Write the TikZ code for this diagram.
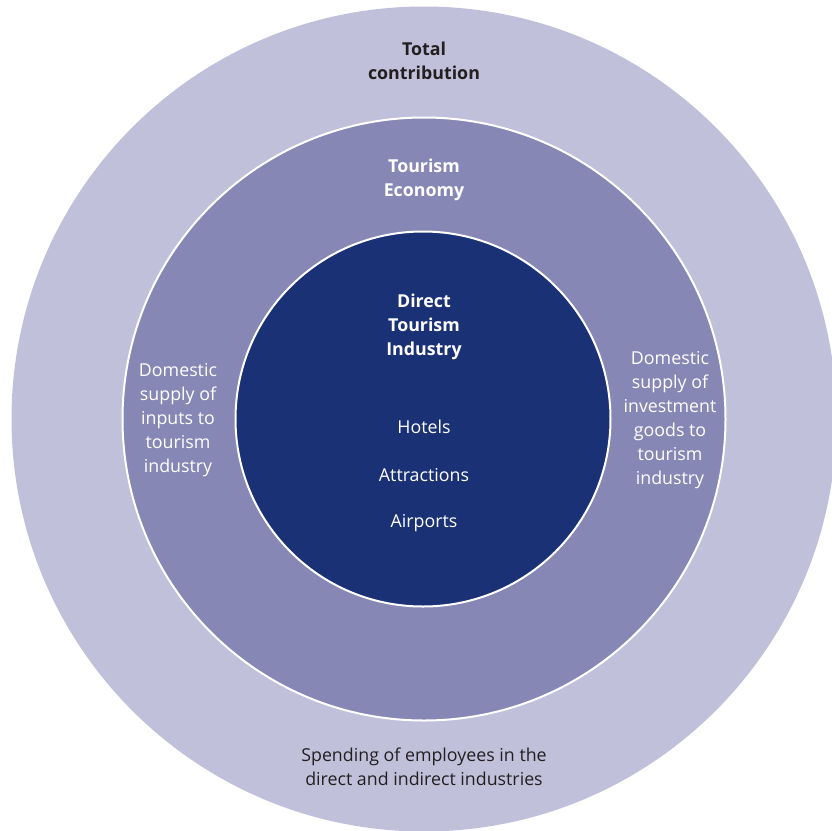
\documentclass[tikz,border=0pt]{standalone}
\usepackage{fontspec}
\setmainfont{Open Sans}
\usetikzlibrary{positioning}
\definecolor{outerring}{HTML}{C0C0DB}
\definecolor{midring}{HTML}{8787B5}
\definecolor{corering}{HTML}{1B3175}
\definecolor{darktext}{HTML}{231F20}

\begin{document}
\begin{tikzpicture}[x=1pt, y=-1pt]
\tikzstyle{ring} = [circle, inner sep=0pt, draw=white, line width=2pt]
\tikzstyle{darklabel} = [align=center, text=darktext, font=\fontsize{17.8}{24}\selectfont]
\tikzstyle{whitelabel} = [align=center, text=white, font=\fontsize{17.8}{24}\selectfont]
\tikzstyle{boldlabel} = [font=\fontsize{17.8}{24}\selectfont\bfseries]

\useasboundingbox (0,0) rectangle (831,831);

%rings
\node (total) [ring, draw=none, fill=outerring, minimum size=825pt] at (424,419) {};
\node (economy) [ring, fill=midring, minimum size=603pt] at (424,419) {};
\node (direct) [ring, fill=corering, minimum size=375pt] at (423,419) {};

%outer ring texts
\node (totaltitle) [darklabel, boldlabel] at (424,61) {Total\\contribution};
\node (spending) [darklabel] at (424,767) {Spending of employees in the\\direct and indirect industries};

%middle ring texts
\node (economytitle) [whitelabel, boldlabel] at (424,180) {Tourism\\Economy};
\node (inputs) [whitelabel] at (178,420) {Domestic\\supply of\\inputs to\\tourism\\industry};
\node (investment) [whitelabel] at (670,420) {Domestic\\supply of\\investment\\goods to\\tourism\\industry};

%core texts
\node (directtitle) [whitelabel, boldlabel] at (424,327) {Direct\\Tourism\\Industry};
\node (hotels) [whitelabel] at (424,427) {Hotels};
\node (attractions) [whitelabel, below=48pt of hotels.center, anchor=center] {Attractions};
\node (airports) [whitelabel, below=48pt of attractions.center, anchor=center] {Airports};

\end{tikzpicture}
\end{document}
